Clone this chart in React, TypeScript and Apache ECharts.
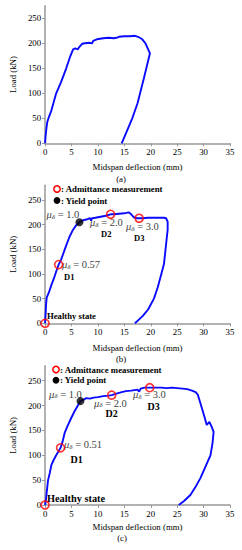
import React, { useEffect, useRef } from "react";
import * as echarts from "echarts";

// Midspan deflection (mm) vs Load (kN)
const curveA: number[][] = [
  [0, 0], [0.1, 15], [0.25, 30], [0.4, 42], [0.7, 52], [1.2, 66], [2.1, 100], [3, 122], [4, 150],
  [4.8, 175], [5.3, 188], [5.7, 190], [6.2, 188], [6.5, 193], [7, 199], [7.5, 200], [8.5, 201],
  [8.9, 200], [9.1, 205], [9.8, 208], [11, 210], [12, 211], [13, 210], [13.5, 211], [14, 213],
  [15, 214], [16, 214], [17, 215], [17.6, 213], [18.4, 208], [19, 200], [19.85, 180],
  [18.7, 130], [17.5, 80], [16.5, 50], [15.5, 25], [14.5, 0],
];
const curveB: number[][] = [
  [0, 0], [0.1, 20], [0.2, 40], [0.3, 52], [0.7, 62], [1.2, 78], [1.7, 92], [2.1, 105], [2.56, 119],
  [3, 128], [3.5, 143], [4, 158], [4.6, 175], [5.2, 188], [5.9, 199], [6.5, 205], [7.2, 209],
  [8, 211], [8.5, 213], [8.7, 208], [8.9, 213], [9.5, 214], [10.5, 216], [11.5, 218], [12.4, 221],
  [13, 221], [14, 222], [15, 223], [15.8, 225], [16.3, 221], [16.8, 215], [17.3, 213], [17.8, 213],
  [18.5, 213], [19.5, 214], [20.5, 214], [21.5, 214], [22.5, 214], [22.9, 213], [23.2, 206],
  [23.2, 190], [23, 170], [22.8, 150], [22.5, 120], [22, 100], [21.3, 72], [20.6, 50], [19.5, 28],
  [18.5, 15], [17.5, 5], [17, 0],
];
const curveC: number[][] = [
  [0, 0], [0.15, 10], [0.35, 30], [0.56, 50], [0.9, 65], [1.18, 80], [1.6, 90], [2.1, 100],
  [2.93, 115], [3.3, 127], [3.7, 145], [4.3, 160], [4.9, 174], [5.6, 189], [6.2, 200], [6.7, 209],
  [7.3, 212], [7.8, 215], [8.5, 214], [9.2, 216], [10, 217], [11, 219], [12, 220], [12.6, 221],
  [13.5, 224], [14.5, 227], [15.3, 229], [16.3, 230], [17.5, 232], [17.8, 228], [18.1, 234],
  [18.8, 236], [19.8, 236], [21, 236], [22, 236], [23, 235], [24, 236], [25, 235], [26, 234],
  [26.9, 233], [27.8, 230], [28.5, 227], [28.9, 222], [29.3, 208], [29.7, 194], [30.2, 176],
  [30.6, 161], [31.1, 167], [31.5, 158], [31.9, 147], [31.7, 125], [31.3, 100], [30.4, 78],
  [29.4, 54], [28.4, 35], [27.5, 20], [26.3, 8], [25.3, 0],
];
// Admittance measurement points (Healthy, D1, D2, D3)
const admitB: number[][] = [[0, 0], [2.56, 119], [12.4, 221], [17.8, 213]];
const admitC: number[][] = [[0, 0], [2.93, 115], [12.6, 221], [19.8, 236]];
// Yield points
const yieldB: number[][] = [[6.5, 205]];
const yieldC: number[][] = [[6.7, 209]];

const xTicks = [0, 5, 10, 15, 20, 25, 30, 35];
const yTicks = [0, 50, 100, 150, 200, 250];
const panelTags = ["(a)", "(b)", "(c)"];
const yMax = [275, 280, 280];
const xTitle = "Midspan deflection (mm)";
const yTitle = "Load (kN)";

const SERIF = "'Liberation Serif', 'Times New Roman', serif";
const BLUE = "#0a0aff";
const RED = "#ff0000";
const AXIS = "#999999";

const grids = [
  { left: 43.7, top: 5.8, width: 186.3, height: 137.5 },
  { left: 43.7, top: 185.2, width: 186.3, height: 138.1 },
  { left: 43.7, top: 365.8, width: 186.3, height: 139.2 },
];
const nameGaps = [19, 20, 17];

function muLabel(x: number, y: number, val: string, size: number) {
  return {
    type: "text",
    x,
    y,
    style: {
      text: `{mu|μ}{sub|δ}{t| = ${val}}`,
      verticalAlign: "middle",
      align: "left",
      rich: {
        mu: { fontFamily: SERIF, fontStyle: "italic", fontSize: size, fill: "#444", lineHeight: 11 },
        sub: { fontFamily: SERIF, fontStyle: "italic", fontSize: size * 0.68, fill: "#444", lineHeight: 6, verticalAlign: "bottom" },
        t: { fontFamily: SERIF, fontSize: size, fill: "#444", lineHeight: 11 },
      },
    },
  };
}
function boldLabel(x: number, y: number, text: string, size: number) {
  return {
    type: "text",
    x,
    y,
    style: {
      text,
      fontFamily: SERIF,
      fontWeight: "bold",
      fontSize: size,
      fill: "#000",
      verticalAlign: "middle",
      align: "left",
    },
  };
}
function legend(cx: number, y1: number, y2: number) {
  return [
    { type: "circle", shape: { cx, cy: y1, r: 3.2 }, style: { fill: "#fff", stroke: RED, lineWidth: 1.5 } },
    boldLabel(cx + 4, y1, ": Admittance measurement", 8.8),
    { type: "circle", shape: { cx, cy: y2, r: 3.4 }, style: { fill: "#000" } },
    boldLabel(cx + 4, y2, ": Yield point", 8.8),
  ];
}

export default function App() {
  const ref = useRef<HTMLDivElement>(null);
  useEffect(() => {
    if (!ref.current) return;
    const chart = echarts.init(ref.current, null, { renderer: "svg" });
    const font = { fontFamily: SERIF, fontSize: 8.8, color: "#000" };
    const option: any = {
      animation: false,
      backgroundColor: "#fff",
      grid: grids.map((g) => ({ ...g, containLabel: false })),
      xAxis: grids.map((_, i) => ({
        type: "value",
        gridIndex: i,
        min: 0,
        max: 35,
        interval: 5,
        name: xTitle,
        nameLocation: "middle",
        nameGap: nameGaps[i],
        nameTextStyle: { ...font },
        axisLine: { show: true, onZero: false, lineStyle: { color: AXIS, width: 1.5 } },
        axisTick: { show: true, length: 3, lineStyle: { color: AXIS, width: 1 }, customValues: xTicks },
        axisLabel: { ...font, margin: 4, customValues: xTicks },
        splitLine: { show: false },
      })),
      yAxis: grids.map((_, i) => ({
        type: "value",
        gridIndex: i,
        min: 0,
        max: yMax[i],
        name: yTitle,
        nameLocation: "middle",
        nameGap: 27,
        nameTextStyle: { ...font },
        axisLine: { show: true, onZero: false, lineStyle: { color: AXIS, width: 1.5 } },
        axisTick: { show: true, length: 3, lineStyle: { color: AXIS, width: 1 }, customValues: yTicks },
        axisLabel: { ...font, margin: 4, customValues: yTicks },
        splitLine: { show: false },
      })),
      series: [
        ...[curveA, curveB, curveC].map((d, i) => ({
          type: "line",
          xAxisIndex: i,
          yAxisIndex: i,
          data: d,
          showSymbol: false,
          lineStyle: { color: BLUE, width: 1.9 },
          z: 2,
        })),
        ...[admitB, admitC].map((d, i) => ({
          type: "scatter",
          xAxisIndex: i + 1,
          yAxisIndex: i + 1,
          data: d,
          symbol: "circle",
          symbolSize: 8,
          itemStyle: { color: "rgba(255,255,255,0)", borderColor: RED, borderWidth: 1.6 },
          z: 4,
        })),
        ...[yieldB, yieldC].map((d, i) => ({
          type: "scatter",
          xAxisIndex: i + 1,
          yAxisIndex: i + 1,
          data: d,
          symbol: "circle",
          symbolSize: 8,
          itemStyle: { color: "#000" },
          z: 4,
        })),
      ],
      graphic: [
        { type: "text", x: 121, y: 179, style: { text: panelTags[0], fontFamily: SERIF, fontSize: 8.8, fill: "#000", align: "center", verticalAlign: "middle" } },
        { type: "text", x: 121, y: 359, style: { text: panelTags[1], fontFamily: SERIF, fontSize: 8.8, fill: "#000", align: "center", verticalAlign: "middle" } },
        { type: "text", x: 122, y: 538.3, style: { text: panelTags[2], fontFamily: SERIF, fontSize: 8.8, fill: "#000", align: "center", verticalAlign: "middle" } },
        ...legend(57, 189, 200.5),
        ...legend(56, 369.5, 380.3),
        // panel (b) annotations
        muLabel(46.5, 214.5, "1.0", 10.5),
        muLabel(90, 222.5, "2.0", 10.5),
        boldLabel(101, 233.5, "D2", 8.5),
        muLabel(126, 226.5, "3.0", 10.5),
        boldLabel(134, 237.5, "D3", 8.5),
        muLabel(62, 264.5, "0.57", 10.5),
        boldLabel(64, 276.5, "D1", 8.5),
        boldLabel(47, 315.5, "Healthy state", 8.7),
        // panel (c) annotations
        muLabel(49, 394, "1.0", 10.5),
        muLabel(94, 403, "2.0", 10.5),
        boldLabel(105.5, 413.5, "D2", 10),
        muLabel(133, 394.5, "3.0", 10.5),
        boldLabel(147.5, 406.5, "D3", 10),
        muLabel(64, 444.5, "0.51", 10.5),
        boldLabel(70.5, 459, "D1", 10),
        boldLabel(47, 498, "Healthy state", 10.3),
      ],
    };
    chart.setOption(option);
    return () => chart.dispose();
  }, []);
  return (
    <div
      ref={ref}
      style={{ position: "fixed", left: 0, top: 0, width: 242, height: 550, background: "#fff" }}
    />
  );
}
